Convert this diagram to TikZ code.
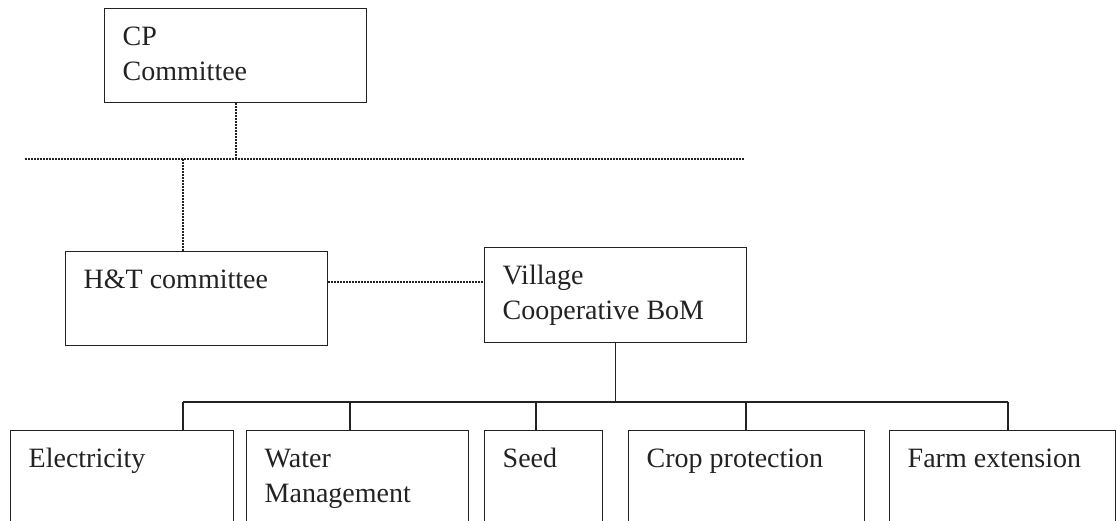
\documentclass[tikz,border=0pt]{standalone}
\usepackage{fontspec}
\setmainfont{Liberation Serif}
\usetikzlibrary{positioning}

\definecolor{ink}{HTML}{222222}
\newcommand{\boxtext}[3]{\parbox[c][#2][t]{#1}{\raggedright\strut#3}}

\begin{document}
\begin{tikzpicture}[
  x=1pt, y=-1pt,
  font=\fontsize{28}{35}\selectfont,
  box/.style={draw=ink, text=ink, line width=1.4pt, anchor=north west, inner xsep=18pt, inner ysep=12pt},
  link/.style={draw=ink, line width=1.3pt},
  dotline/.style={draw=ink, line width=2pt, dash pattern=on 1.5pt off 1.5pt}
]
\path[use as bounding box, clip] (0,0) rectangle (1116,520);

\node[box] (cp) at (104,8) {\boxtext{226pt}{70pt}{CP\\Committee}};
\node[box] (ht) at (65,251) {\boxtext{226pt}{70pt}{H\&T committee}};
\node[box] (vcb) at (484,247) {\boxtext{226pt}{71pt}{Village\\Cooperative BoM}};

\node[box] (elec) at (10,430) {\boxtext{187pt}{100pt}{Electricity}};
\node[box] (water) at (246,430) {\boxtext{186pt}{100pt}{Water\\Management}};
\node[box] (seed) at (484,430) {\boxtext{82pt}{100pt}{Seed}};
\node[box] (crop) at (628,430) {\boxtext{200pt}{100pt}{Crop protection}};
\node[box] (farm) at (889,430) {\boxtext{190pt}{100pt}{Farm extension}};

\coordinate (rowl) at (25,159);
\coordinate (rowr) at (745,159);
\coordinate (htup) at (183,159);
\draw[dotline] (rowl) -- (rowr);
\draw[dotline] (cp.south) -- (cp.south |- rowl);
\draw[dotline] (htup) -- (htup |- ht.north);
\draw[dotline] ([yshift=17pt]ht.east) -- ([yshift=17pt]ht.east -| vcb.west);

\coordinate (t1) at (183,402);
\coordinate (t2) at (350,402);
\coordinate (t3) at (536,402);
\coordinate (t4) at (746,402);
\coordinate (t5) at (1008,402);
\draw[link] (vcb.south) -- (vcb.south |- t1);
\draw[link] (t1) -- (t5);
\draw[link] (t1) -- (t1 |- elec.north);
\draw[link] (t2) -- (t2 |- water.north);
\draw[link] (t3) -- (t3 |- seed.north);
\draw[link] (t4) -- (t4 |- crop.north);
\draw[link] (t5) -- (t5 |- farm.north);
\end{tikzpicture}
\end{document}
